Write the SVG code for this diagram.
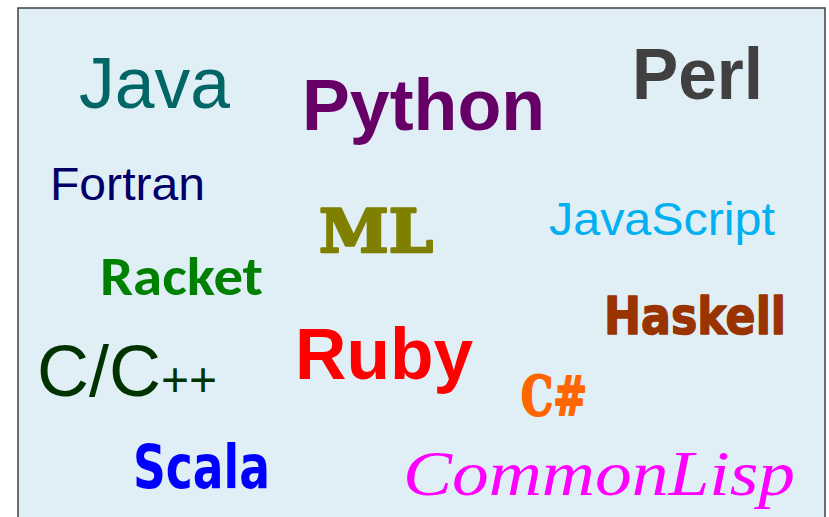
<svg xmlns="http://www.w3.org/2000/svg" width="829" height="517" viewBox="0 0 829 517">
  <style>
    .sans { font-family: "Liberation Sans", Arial, sans-serif; }
    .bold { font-weight: bold; }
    .heavy { stroke-linejoin: round; paint-order: stroke fill; }
  </style>
  <rect x="0" y="0" width="829" height="517" fill="#ffffff"/>
  <!-- panel -->
  <rect x="18" y="8" width="807" height="520" fill="#e0eef6" stroke="#404040" stroke-width="1.5"/>

  <g id="java"><text class="sans" x="79" y="108" font-size="72" fill="#006666" textLength="151" lengthAdjust="spacingAndGlyphs">Java</text></g>
  <g id="python"><text class="sans bold" x="302" y="130" font-size="72" fill="#660066" textLength="243" lengthAdjust="spacingAndGlyphs">Python</text></g>
  <g id="perl"><text class="sans bold" x="632" y="99" font-size="72" fill="#404040" textLength="131" lengthAdjust="spacingAndGlyphs">Perl</text></g>
  <g id="fortran"><text class="sans" x="50" y="200" font-size="47" fill="#000066" textLength="155" lengthAdjust="spacingAndGlyphs">Fortran</text></g>
  <g id="ml"><text class="heavy" x="319" y="252" font-family="'DejaVu Serif', serif" font-weight="bold" font-size="60" fill="#808000" stroke="#808000" stroke-width="2.5" textLength="114" lengthAdjust="spacingAndGlyphs">ML</text></g>
  <g id="javascript"><text class="sans" x="549" y="235" font-size="47" fill="#00b0f0" textLength="226" lengthAdjust="spacingAndGlyphs">JavaScript</text></g>
  <g id="racket"><text x="100" y="295" font-family="Carlito, Lato, sans-serif" font-weight="bold" font-size="54" fill="#008000" textLength="163" lengthAdjust="spacingAndGlyphs">Racket</text></g>
  <g id="haskell"><text class="heavy" x="604" y="334" font-family="'DejaVu Sans', sans-serif" font-weight="bold" font-size="52" fill="#993300" stroke="#993300" stroke-width="1.5" textLength="182" lengthAdjust="spacingAndGlyphs">Haskell</text></g>
  <g id="cpp"><text class="sans" x="37" y="396" font-size="72" fill="#003300"><tspan>C/C</tspan><tspan font-size="48">++</tspan></text></g>
  <g id="ruby"><text class="sans bold" x="295" y="379" font-size="72" fill="#ff0000" textLength="178" lengthAdjust="spacingAndGlyphs">Ruby</text></g>
  <g id="csharp"><text class="heavy" x="521" y="415" font-family="'DejaVu Serif', serif" font-weight="bold" font-size="54" fill="#ff6600" stroke="#ff6600" stroke-width="2" textLength="66" lengthAdjust="spacingAndGlyphs">C#</text></g>
  <g id="scala"><text x="133" y="488" font-family="'DejaVu Sans', sans-serif" font-weight="bold" font-size="60" fill="#0000ff" textLength="137" lengthAdjust="spacingAndGlyphs">Scala</text></g>
  <g id="commonlisp"><text x="403" y="495" font-family="'Liberation Serif', serif" font-style="italic" font-size="64" fill="#ff00ff" textLength="392" lengthAdjust="spacingAndGlyphs">CommonLisp</text></g>
</svg>
